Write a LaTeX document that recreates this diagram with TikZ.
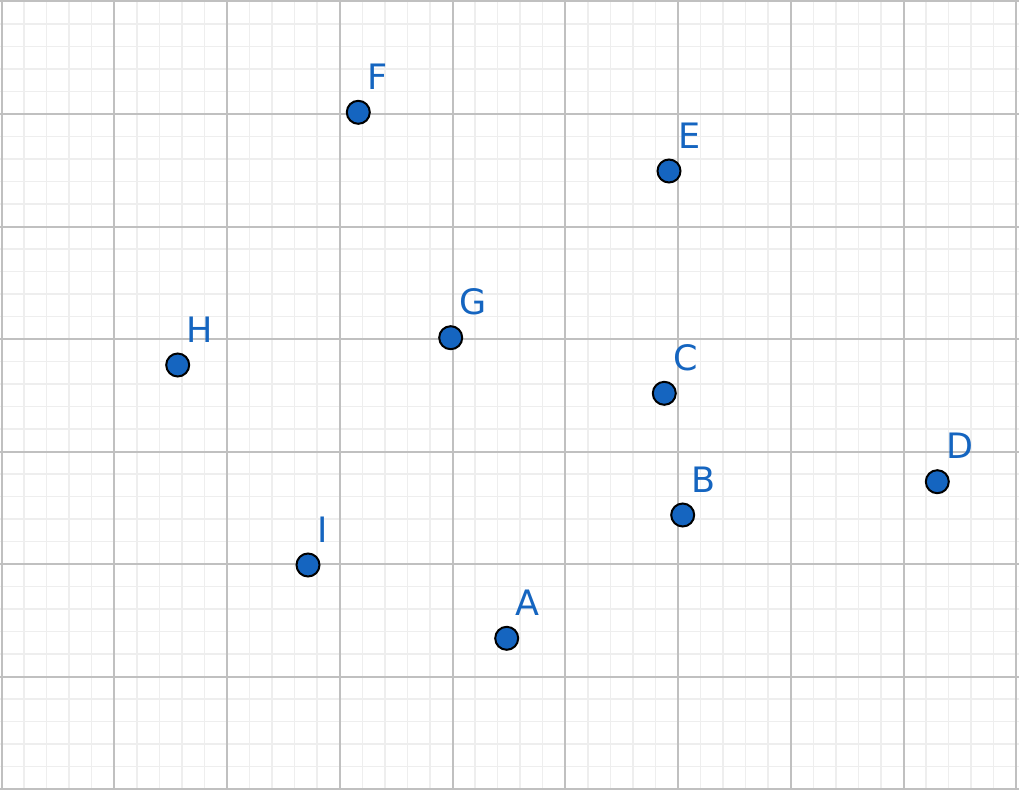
\documentclass[tikz,border=0pt]{standalone}
\usepackage{fontspec}
\setmainfont{DejaVu Sans}
\definecolor{ptblue}{HTML}{1565C0}
\definecolor{majorgray}{HTML}{C0C0C0}
\definecolor{minorgray}{HTML}{EEEEEE}
\begin{document}
\begin{tikzpicture}[x=1pt,y=-1pt,
  ptdot/.style={circle,draw=black,line width=2pt,fill=ptblue,minimum size=23pt,inner sep=0pt},
  lbl/.style={anchor=base west,inner sep=0pt,text=ptblue,font=\fontsize{35}{40}\selectfont},
  minorline/.style={draw=minorgray,line width=1.5pt},
  majorline/.style={draw=majorgray,line width=2pt}]
\useasboundingbox (0,0) rectangle (1019,789);
\fill[white] (0,0) rectangle (1019,789);
\foreach \i in {0,...,45} \draw[minorline] ({1.5+22.55*\i},0) -- ({1.5+22.55*\i},789);
\foreach \j in {0,...,35} \draw[minorline] (0,{1.5+22.5*\j}) -- (1019,{1.5+22.5*\j});
\foreach \i in {0,...,9} \draw[majorline] ({1.5+112.75*\i},0) -- ({1.5+112.75*\i},789);
\foreach \j in {0,...,7} \draw[majorline] (0,{1.5+112.5*\j}) -- (1019,{1.5+112.5*\j});
\foreach \n/\x/\y in {A/506.7/638.3, B/682.7/515, C/664.3/393.3, D/937.3/481.7, E/669/171, F/358.3/112.3, G/450.7/337.7, H/177.7/365, I/308/565}{
  \node[ptdot] (\n) at (\x,\y) {};
  \path (\n.center) ++(9,-23) node[lbl] (\n lab) {\n};
}
\end{tikzpicture}
\end{document}
